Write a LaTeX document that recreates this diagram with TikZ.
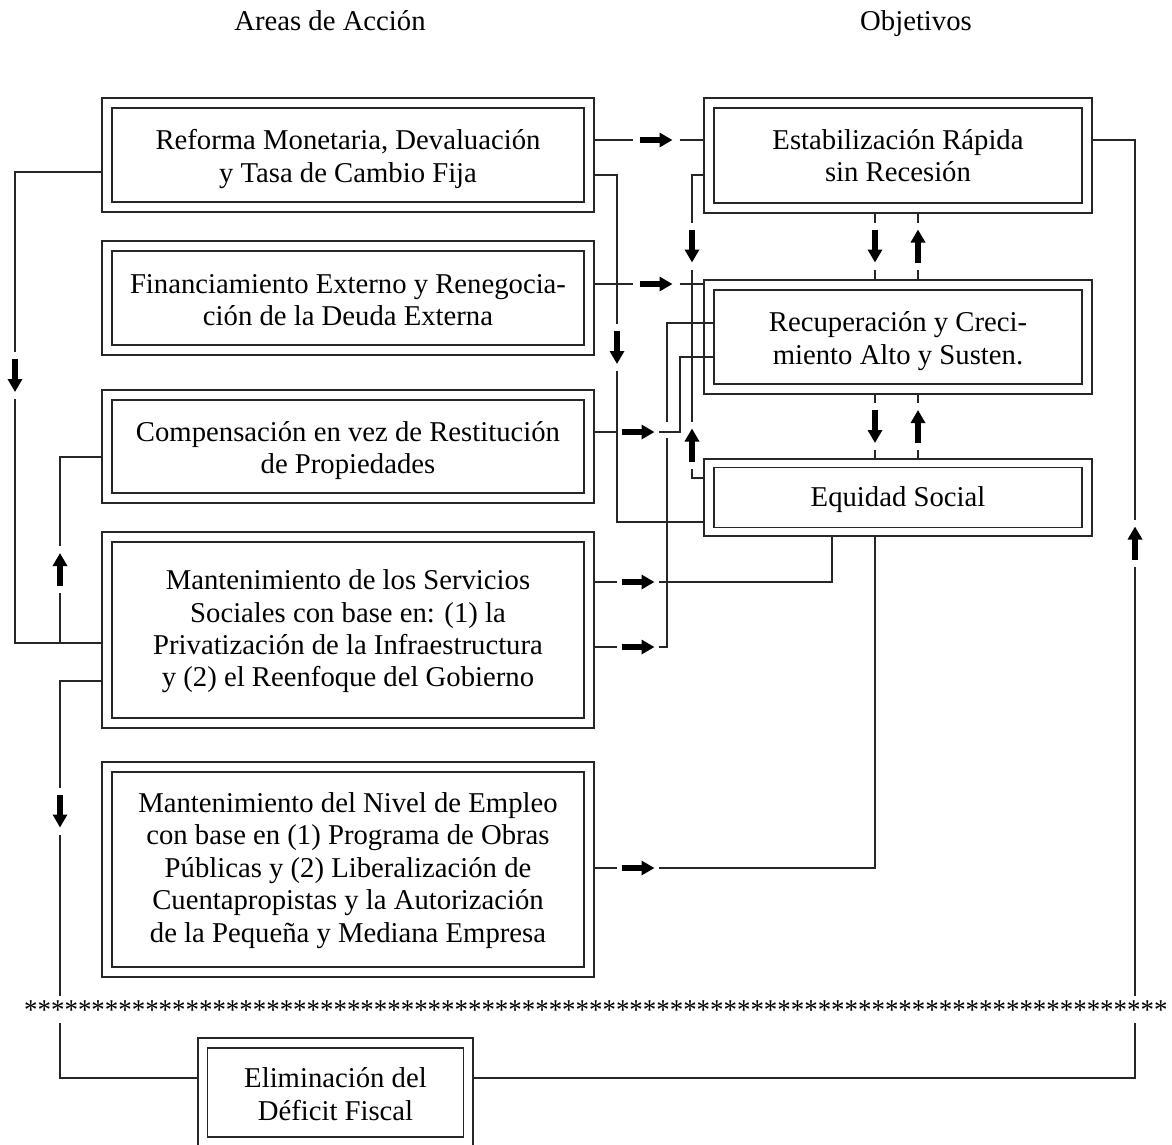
\documentclass[tikz,border=0pt]{standalone}
\usepackage{fontspec}
\usepackage{graphicx}
\setmainfont{Liberation Serif}
\usetikzlibrary{arrows.meta}
\begin{document}
\begin{tikzpicture}[x=1pt,y=-1pt,
  txt/.style={font=\fontsize{28.7}{32.4}\selectfont},
  obox/.style={draw=black!85, line width=1.2pt, inner sep=0pt, outer sep=0pt},
  ibox/.style={draw=black!85, line width=1.2pt, inner sep=0pt, outer sep=0pt},
  btext/.style={txt, align=center, inner sep=0pt},
  conn/.style={draw=black!85, line width=1.2pt},
  hslot/.style={inner sep=0pt, outer sep=0pt, minimum width=47pt, minimum height=14pt},
  hslotb/.style={inner sep=0pt, outer sep=0pt, minimum width=42pt, minimum height=14pt},
  vslot/.style={inner sep=0pt, outer sep=0pt, minimum width=14pt, minimum height=47pt},
  fat/.style={line width=5.5pt, -{Triangle[length=13pt,width=14pt]}, shorten <=7pt, shorten >=7pt},
  fatb/.style={line width=5.5pt, -{Triangle[length=13pt,width=14pt]}, shorten <=4.5pt, shorten >=4.5pt}
]
\useasboundingbox (0,0) rectangle (1172,1144);
\clip (0,0) rectangle (1172,1144);

% titles
\node[txt, anchor=base, inner sep=0pt] (t1) at (330,30) {Areas de Acción};
\node[txt, anchor=base, inner sep=0pt] (t2) at (916,30) {Objetivos};

% left boxes
\node[obox, minimum width=492pt, minimum height=114pt] (b1) at (348,155) {};
\node[ibox, minimum width=472pt, minimum height=94pt] (b1i) at (b1) {};
\node[btext, yshift=-4pt] (b1t) at (b1) {Reforma Monetaria, Devaluación\\y Tasa de Cambio Fija};
\node[obox, minimum width=492pt, minimum height=114pt] (b2) at (348,298) {};
\node[ibox, minimum width=472pt, minimum height=94pt] (b2i) at (b2) {};
\node[btext, yshift=-2pt] (b2t) at (b2) {Financiamiento Externo y Renegocia-\\ción de la Deuda Externa};
\node[obox, minimum width=492pt, minimum height=113pt] (b3) at (348,446.5) {};
\node[ibox, minimum width=472pt, minimum height=93pt] (b3i) at (b3) {};
\node[btext, yshift=-4pt] (b3t) at (b3) {Compensación en vez de Restitución\\de Propiedades};
\node[obox, minimum width=492pt, minimum height=196pt] (b4) at (348,630) {};
\node[ibox, minimum width=472pt, minimum height=176pt] (b4i) at (b4) {};
\node[btext, yshift=-1.5pt] (b4t) at (b4) {Mantenimiento de los Servicios\\Sociales con base en: (1) la\\Privatización de la Infraestructura\\y (2) el Reenfoque del Gobierno};
\node[obox, minimum width=492pt, minimum height=215pt] (b5) at (348,869.5) {};
\node[ibox, minimum width=472pt, minimum height=195pt] (b5i) at (b5) {};
\node[btext, yshift=-1pt] (b5t) at (b5) {Mantenimiento del Nivel de Empleo\\con base en (1) Programa de Obras\\Públicas y (2) Liberalización de\\Cuentapropistas y la Autorización\\de la Pequeña y Mediana Empresa};
\node[obox, minimum width=275pt, minimum height=109pt] (b6) at (335.5,1092.5) {};
\node[ibox, minimum width=256pt, minimum height=89pt] (b6i) at (b6) {};
\node[btext, yshift=-1.5pt] (b6t) at (b6) {Eliminación del\\Déficit Fiscal};

% right boxes
\node[obox, minimum width=388pt, minimum height=115pt] (r1) at (898,155.5) {};
\node[ibox, minimum width=368pt, minimum height=95pt] (r1i) at (r1) {};
\node[btext] (r1t) at (r1) {Estabilización Rápida\\sin Recesión};
\node[obox, minimum width=388pt, minimum height=114pt] (r2) at (898,337) {};
\node[ibox, minimum width=368pt, minimum height=94pt] (r2i) at (r2) {};
\node[btext, yshift=-4pt] (r2t) at (r2) {Recuperación y Creci-\\miento Alto y Susten.};
\node[obox, minimum width=388pt, minimum height=77pt] (r3) at (898,497.5) {};
\node[ibox, minimum width=368pt, minimum height=60pt] (r3i) at (r3) {};
\node[btext, yshift=-2pt] (r3t) at (r3) {Equidad Social};

% stars
\node[anchor=base west, inner sep=0pt, font=\fontsize{28.7}{30}\selectfont] (stars) at (24,1019) {\scalebox{0.9373}[1]{*************************************************************************************}};

% arrow slots
\node[hslot] (h1) at (656,140) {};
\node[hslot] (h2) at (656,284) {};
\node[hslotb] (h3) at (638,432) {};
\node[hslotb] (h4) at (638,582) {};
\node[hslotb] (h5) at (638,647) {};
\node[hslotb] (h6) at (638,868) {};
\node[vslot] (v1) at (617,347.5) {};
\node[vslot] (v2) at (692,246) {};
\node[vslot] (v3) at (692,445) {};
\node[vslot] (v4) at (875,246) {};
\node[vslot] (v5) at (918,246) {};
\node[vslot] (v6) at (875,426.5) {};
\node[vslot] (v7) at (918,426.5) {};
\node[vslot] (v8) at (1135,543) {};
\node[vslot] (v9) at (60,811) {};
\node[vslot] (v10) at (15,375.5) {};
\node[vslot] (v11) at (60,569.5) {};

% fat arrows
\draw[fat] (h1.west) -- (h1.east);
\draw[fat] (h2.west) -- (h2.east);
\draw[fatb] (h3.west) -- (h3.east);
\draw[fatb] (h4.west) -- (h4.east);
\draw[fatb] (h5.west) -- (h5.east);
\draw[fatb] (h6.west) -- (h6.east);
\draw[fat] (v1.north) -- (v1.south);
\draw[fat] (v2.north) -- (v2.south);
\draw[fat] (v3.south) -- (v3.north);
\draw[fat] (v4.north) -- (v4.south);
\draw[fat] (v5.south) -- (v5.north);
\draw[fat] (v6.north) -- (v6.south);
\draw[fat] (v7.south) -- (v7.north);
\draw[fat] (v8.south) -- (v8.north);
\draw[fat] (v9.north) -- (v9.south);
\draw[fat] (v10.north) -- (v10.south);
\draw[fat] (v11.south) -- (v11.north);

% connectors
\draw[conn] (b1.east |- h1) -- (h1.west);
\draw[conn] (h1.east) -- (r1.west |- h1);
\draw[conn] (b2.east |- h2) -- (h2.west);
\draw[conn] (h2.east) -- (r2.west |- h2);
\draw[conn] (b1.east |- 0,175) -| (v1.north);
\draw[conn] (v1.south) |- (r3.west |- 0,522);
\draw[conn] (r1.west |- 0,175) -| (v2.north);
\draw[conn] (v2.south) -- (v3.north);
\draw[conn] (v3.south) |- (r3.west |- 0,478);
\draw[conn] (b3.east |- h3) -- (h3.west);
\draw[conn] (h3.east) -| (680,357) -- (r2i.west |- 0,357);
\draw[conn] (b4.east |- h5) -- (h5.west);
\draw[conn] (h5.east) -| (667,438);
\draw[conn] (667,422) |- (r2i.west |- 0,323);
\draw[conn] (b4.east |- h4) -- (h4.west);
\draw[conn] (h4.east) -| (832,0 |- r3.south);
\draw[conn] (b5.east |- h6) -- (h6.west);
\draw[conn] (h6.east) -| (875,0 |- r3.south);
\draw[conn] (r1.south -| v4) -- (v4.north);
\draw[conn] (v4.south) -- (r2.north -| v4);
\draw[conn] (r1.south -| v5) -- (v5.north);
\draw[conn] (v5.south) -- (r2.north -| v5);
\draw[conn] (r2.south -| v6) -- (v6.north);
\draw[conn] (v6.south) -- (r3.north -| v6);
\draw[conn] (r2.south -| v7) -- (v7.north);
\draw[conn] (v7.south) -- (r3.north -| v7);
\draw[conn] (b6.east |- 0,1078) -| (1135,1023);
\draw[conn] (1135,996) -- (v8.south);
\draw[conn] (v8.north) |- (r1.east |- 0,140);
\draw[conn] (b4.west |- 0,681) -| (v9.north);
\draw[conn] (v9.south) -- (60,996);
\draw[conn] (60,1023) |- (b6.west |- 0,1078);
\draw[conn] (b1.west |- 0,172) -| (v10.north);
\draw[conn] (v10.south) |- (b4.west |- 0,643);
\draw[conn] (60,643) -- (v11.south);
\draw[conn] (v11.north) |- (b3.west |- 0,457);
\end{tikzpicture}
\end{document}
